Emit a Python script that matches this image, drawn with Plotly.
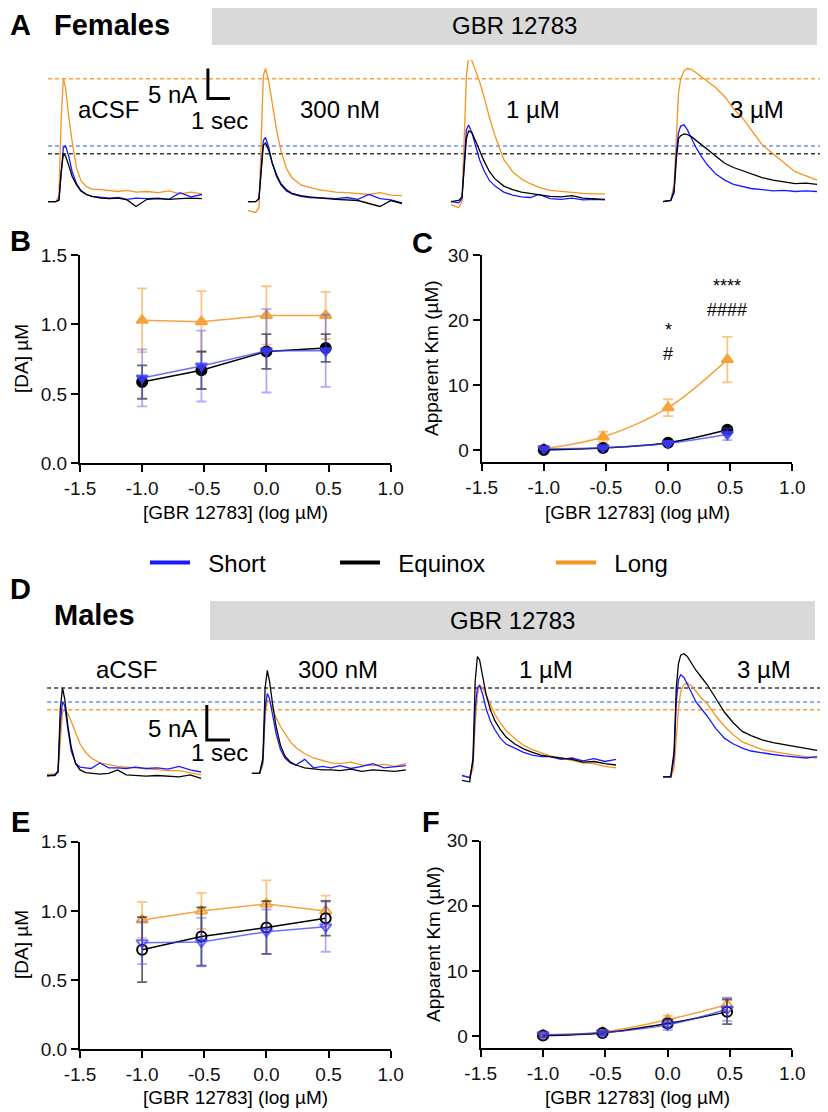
import plotly.graph_objects as go

# the page puts the chart 8 px in from the top-left corner, so the figure is
# 8 px smaller and all layout positions below are given in window pixels
W, H = 828, 1112
OFF = 8
FIG_W, FIG_H = W - OFF, H - OFF
FONT = "Liberation Sans, Arial, sans-serif"


def px(x):
    return (x - OFF) / FIG_W


def py(y):
    return 1 - (y - OFF) / FIG_H


# ---- dose-response data (B, C, E, F) ----
LOG_DOSE = [-1.0, -0.523, 0.0, 0.477]
X_TICKS = [-1.5, -1.0, -0.5, 0.0, 0.5, 1.0]
X_TICK_TEXT = ["-1.5", "-1.0", "-0.5", "0.0", "0.5", "1.0"]
DA_TICKS = [0.0, 0.5, 1.0, 1.5]
DA_TICK_TEXT = ["0.0", "0.5", "1.0", "1.5"]
KM_TICKS = [0, 10, 20, 30]

GROUPS = ["Short", "Equinox", "Long"]

F_DA_SHORT = [0.615, 0.70, 0.81, 0.81]
F_DA_SHORT_ERR = [0.205, 0.255, 0.30, 0.26]
F_DA_EQUINOX = [0.585, 0.67, 0.805, 0.83]
F_DA_EQUINOX_ERR = [0.12, 0.135, 0.125, 0.10]
F_DA_LONG = [1.03, 1.02, 1.065, 1.065]
F_DA_LONG_ERR = [0.23, 0.22, 0.21, 0.17]

F_KM_SHORT = [0.2, 0.35, 1.0, 2.4]
F_KM_SHORT_ERR = [0.2, 0.2, 0.3, 0.9]
F_KM_EQUINOX = [0.0, 0.3, 1.1, 3.1]
F_KM_EQUINOX_ERR = [0.1, 0.2, 0.3, 0.4]
F_KM_LONG = [0.2, 2.0, 6.5, 13.9]
F_KM_LONG_ERR = [0.3, 0.8, 1.3, 3.5]

M_DA_SHORT = [0.77, 0.775, 0.85, 0.885]
M_DA_SHORT_ERR = [0.155, 0.175, 0.16, 0.18]
M_DA_EQUINOX = [0.72, 0.815, 0.88, 0.947]
M_DA_EQUINOX_ERR = [0.235, 0.21, 0.19, 0.125]
M_DA_LONG = [0.935, 1.0, 1.05, 1.0]
M_DA_LONG_ERR = [0.13, 0.13, 0.17, 0.11]

M_KM_SHORT = [0.2, 0.5, 1.7, 4.1]
M_KM_SHORT_ERR = [0.3, 0.4, 0.8, 1.8]
M_KM_EQUINOX = [0.05, 0.45, 1.9, 3.7]
M_KM_EQUINOX_ERR = [0.2, 0.3, 0.6, 1.9]
M_KM_LONG = [0.15, 0.6, 2.5, 4.8]
M_KM_LONG_ERR = [0.2, 0.3, 0.6, 1.0]

C_STARS = ["", "", "*", "****"]
C_STARS_Y = [0, 0, 18.4, 25.2]
C_HASH = ["", "", "#", "####"]
C_HASH_Y = [0, 0, 14.7, 21.6]

# ---- voltammetry traces (A, D): time (s) and current (nA) ----
CONDITIONS = ["aCSF", "300 nM", "1 µM", "3 µM"]
T_S = [0, 0.35, 0.5, 0.6, 0.7, 0.8, 0.95, 1.1, 1.3, 1.5, 1.75, 2.0,
       2.4, 2.8, 3.2, 3.6, 4.0, 4.5, 5.0, 5.5, 6.0, 6.5, 7.0]

F_ACSF_SHORT = [0, 0, 0.2, 5.0, 9.0, 9.3, 7.5, 5.0, 3.0, 1.8, 1.2, 0.9, 0.7, 0.6, 0.7, 0.4, 0.6, 0.5, 0.6, 0.4, 1.5, 0.8, 1.2]
F_ACSF_EQUINOX = [0, 0, 0.3, 5.0, 8.0, 7.6, 6.0, 4.2, 2.8, 1.8, 1.2, 0.9, 0.6, 0.5, 0.6, 0.3, -0.8, 0.4, 0.5, 0.4, 0.5, 0.6, 0.5]
F_ACSF_LONG = [0, 0, 1.0, 14.0, 20.5, 19.0, 14.0, 10.0, 5.6, 3.5, 2.5, 2.1, 2.0, 1.8, 1.7, 1.9, 1.6, 1.7, 1.5, 1.8, 1.3, 1.6, 1.3]

F_300_SHORT = [0, 0, 0.5, 6.0, 10.2, 10.7, 9.0, 6.5, 4.2, 2.8, 1.8, 1.3, 0.9, 0.7, 0.6, 0.5, 0.5, 0.7, 0.4, 1.2, 0.5, 0.3, -0.2]
F_300_EQUINOX = [0, 0, 0.5, 5.5, 9.4, 9.8, 8.5, 6.5, 4.5, 3.0, 2.0, 1.4, 1.0, 0.8, 0.6, 0.5, 0.4, 0.3, 0.2, -0.3, -0.8, 0.2, -0.3]
F_300_LONG = [-1.5, -1.8, -1.0, 12.0, 21.0, 22.2, 20.0, 16.5, 12.0, 8.5, 5.5, 4.0, 2.8, 2.4, 2.0, 1.8, 1.6, 1.5, 1.3, 1.2, 1.5, 1.1, 1.0]

F_1U_SHORT = [0, -0.2, 0.5, 7.0, 12.0, 12.8, 11.5, 9.5, 7.0, 5.2, 3.5, 2.6, 1.6, 1.1, 0.8, 0.7, 1.2, 0.5, 0.4, 0.6, 0.3, 0.4, 0.3]
F_1U_EQUINOX = [0, 0.2, 0.8, 6.0, 10.5, 11.8, 11.5, 10.3, 8.5, 6.8, 5.0, 3.8, 2.6, 2.0, 1.6, 1.4, 1.2, 0.9, 0.8, 1.0, 0.6, 0.5, 0.4]
F_1U_LONG = [-0.5, -1.0, 0, 12.0, 21.0, 24.0, 23.5, 22.0, 20.0, 17.5, 14.0, 11.0, 7.0, 5.0, 3.8, 3.0, 2.4, 1.9, 1.7, 1.6, 1.4, 1.3, 1.3]

F_3U_SHORT = [0, 0.2, 2.0, 8.0, 11.5, 12.6, 12.8, 12.0, 10.5, 9.0, 7.5, 6.2, 4.6, 3.6, 2.9, 2.5, 2.2, 2.0, 1.8, 1.9, 1.7, 1.8, 1.7]
F_3U_EQUINOX = [0, 0.2, 1.5, 7.0, 10.5, 11.0, 11.3, 11.2, 10.8, 10.2, 9.5, 8.8, 7.6, 6.4, 5.7, 5.2, 4.6, 4.0, 3.6, 3.3, 3.0, 3.1, 2.9]
F_3U_LONG = [0, 0.2, 3.0, 12.0, 18.0, 20.5, 21.8, 22.2, 22.0, 21.5, 20.8, 20.0, 19.0, 17.5, 15.5, 14.0, 12.0, 9.5, 8.0, 6.5, 5.0, 4.3, 3.6]

M_ACSF_SHORT = [-0.6, -0.4, 0.2, 7.0, 10.0, 9.5, 6.0, 3.0, 1.2, 0.7, 0.6, 0.5, 1.3, 0.6, 0.6, 0.5, 0.7, 0.5, 0.6, 0.4, 0.8, 0.3, 0.0]
M_ACSF_EQUINOX = [-0.5, -0.5, 0, 9.0, 12.0, 10.5, 6.5, 3.5, 1.2, 0.3, -0.1, -0.2, -0.3, -0.2, 0.3, -0.4, -0.5, -0.6, -0.5, -0.6, -0.7, -0.4, -0.9]
M_ACSF_LONG = [-0.3, -0.3, 0, 5.0, 8.5, 8.9, 8.3, 7.2, 5.5, 4.0, 2.8, 2.0, 1.3, 1.0, 0.8, 0.7, 0.6, 0.5, 0.4, 0.2, 0.2, -0.1, -0.4]

M_300_SHORT = [-0.2, -0.2, 1.5, 9.0, 11.2, 10.5, 8.0, 5.5, 3.2, 2.0, 1.3, 1.0, 1.8, 0.6, 0.8, 0.6, 0.9, 0.5, 0.8, 1.2, 0.6, 0.8, 0.9]
M_300_EQUINOX = [-0.2, -0.2, 2.0, 12.0, 14.5, 13.0, 9.5, 6.5, 3.8, 2.3, 1.4, 1.0, 0.6, 0.4, 0.3, 0.3, 0.2, 0.4, 0.1, 0.3, 0.2, 0.1, 0.3]
M_300_LONG = [-0.2, -0.2, 1.0, 8.0, 10.3, 10.0, 9.0, 7.8, 6.5, 5.6, 4.3, 3.5, 2.6, 2.0, 1.6, 1.3, 1.2, 1.4, 1.0, 0.9, 1.1, 0.8, 1.2]

M_1U_SHORT = [-0.5, -0.8, 1.5, 9.0, 12.0, 12.4, 11.0, 9.0, 7.2, 6.0, 4.8, 4.0, 3.4, 2.8, 2.4, 2.2, 2.2, 1.8, 2.0, 1.6, 1.9, 1.5, 1.8]
M_1U_EQUINOX = [-1.2, -1.4, 2.0, 13.0, 16.5, 16.0, 13.5, 11.0, 8.8, 7.3, 6.0, 5.0, 4.0, 3.3, 2.8, 2.4, 2.2, 2.0, 1.8, 1.4, 1.5, 1.2, 1.0]
M_1U_LONG = [-0.5, -0.8, 0.5, 7.0, 11.0, 12.4, 12.0, 11.0, 9.5, 8.2, 7.0, 5.9, 4.8, 3.8, 3.2, 2.7, 2.3, 2.0, 1.6, 1.3, 1.2, 0.8, 0.6]

M_3U_SHORT = [-0.7, -0.7, 2.0, 10.0, 13.2, 13.9, 13.5, 12.5, 11.2, 10.0, 9.0, 8.0, 6.2, 4.8, 4.0, 3.4, 3.0, 2.7, 2.5, 2.3, 2.2, 2.0, 2.2]
M_3U_EQUINOX = [-0.7, -0.7, 3.0, 12.0, 15.5, 16.7, 16.9, 16.5, 15.5, 14.5, 13.5, 12.5, 10.5, 8.5, 7.0, 5.8, 5.2, 4.6, 4.2, 3.9, 3.6, 3.3, 3.1]
M_3U_LONG = [-0.7, -0.7, 0.5, 5.0, 9.0, 11.5, 12.5, 12.7, 12.3, 11.5, 10.5, 9.8, 8.0, 6.5, 5.3, 4.3, 3.8, 3.2, 2.9, 2.6, 2.4, 2.2, 2.0]

F_TRACES = [
    [F_ACSF_SHORT, F_ACSF_EQUINOX, F_ACSF_LONG],
    [F_300_SHORT, F_300_EQUINOX, F_300_LONG],
    [F_1U_SHORT, F_1U_EQUINOX, F_1U_LONG],
    [F_3U_SHORT, F_3U_EQUINOX, F_3U_LONG],
]
M_TRACES = [
    [M_ACSF_SHORT, M_ACSF_EQUINOX, M_ACSF_LONG],
    [M_300_SHORT, M_300_EQUINOX, M_300_LONG],
    [M_1U_SHORT, M_1U_EQUINOX, M_1U_LONG],
    [M_3U_SHORT, M_3U_EQUINOX, M_3U_LONG],
]

# layout: where each recording starts along the trace axis (s)
F_OFFSETS = [2.18, 11.27, 20.5, 30.14]
M_OFFSETS = [2.14, 11.45, 21.0, 30.14]
PX_PER_S = 22

TRACE_COLORS = ["#1a1aff", "#000000", "#f7941d"]
DASH_COLORS = ["#6f8cff", "#3a3a3a", "#f7a040"]
MARK_COLORS = ["rgba(60,60,255,0.75)", "#000000", "#f7a33c"]
ERR_COLORS = ["rgba(70,70,255,0.45)", "rgba(0,0,0,0.6)", "rgba(247,148,29,0.55)"]
FILLED = ["triangle-down", "circle", "triangle-up"]
OPEN = ["triangle-down-open", "circle-open", "triangle-up-open"]

fig = go.Figure()

# ---- trace panels ----
for traces, offsets, ax, ay, end in [(F_TRACES, F_OFFSETS, "x5", "y5", 37.4), (M_TRACES, M_OFFSETS, "x6", "y6", 37.6)]:
    for g in range(3):
        peak = max(traces[0][g])
        fig.add_trace(go.Scatter(
            x=[offsets[0], end], y=[peak, peak], mode="lines",
            line=dict(color=DASH_COLORS[g], width=1.5, dash="4px,3px"),
            xaxis=ax, yaxis=ay, showlegend=False, hoverinfo="skip"))
    for c in range(4):
        for g in [2, 0, 1]:
            fig.add_trace(go.Scatter(
                x=[t + offsets[c] for t in T_S], y=traces[c][g], mode="lines",
                line=dict(color=TRACE_COLORS[g], width=1.3),
                xaxis=ax, yaxis=ay, showlegend=False))

# scale bars (5 nA, 1 s)
fig.add_trace(go.Scatter(x=[9.45, 9.45, 10.45], y=[22.2, 17.2, 17.2], mode="lines",
                         line=dict(color="black", width=3), xaxis="x5", yaxis="y5", showlegend=False))
fig.add_trace(go.Scatter(x=[9.4, 9.4, 10.45], y=[9.57, 4.57, 4.57], mode="lines",
                         line=dict(color="black", width=3), xaxis="x6", yaxis="y6", showlegend=False))

# ---- dose-response panels ----
panels = [
    ("x", "y", [F_DA_SHORT, F_DA_EQUINOX, F_DA_LONG], [F_DA_SHORT_ERR, F_DA_EQUINOX_ERR, F_DA_LONG_ERR], FILLED, "linear"),
    ("x2", "y2", [F_KM_SHORT, F_KM_EQUINOX, F_KM_LONG], [F_KM_SHORT_ERR, F_KM_EQUINOX_ERR, F_KM_LONG_ERR], FILLED, "spline"),
    ("x3", "y3", [M_DA_SHORT, M_DA_EQUINOX, M_DA_LONG], [M_DA_SHORT_ERR, M_DA_EQUINOX_ERR, M_DA_LONG_ERR], OPEN, "linear"),
    ("x4", "y4", [M_KM_SHORT, M_KM_EQUINOX, M_KM_LONG], [M_KM_SHORT_ERR, M_KM_EQUINOX_ERR, M_KM_LONG_ERR], OPEN, "spline"),
]
for ax, ay, vals, errs, symbols, shape in panels:
    for g in [2, 1, 0]:
        fig.add_trace(go.Scatter(
            x=LOG_DOSE, y=vals[g], mode="lines+markers",
            line=dict(color=MARK_COLORS[g], width=1.5, shape=shape),
            marker=dict(symbol=symbols[g], size=10, color=MARK_COLORS[g],
                        line=dict(color=MARK_COLORS[g], width=2)),
            error_y=dict(type="data", array=errs[g], color=ERR_COLORS[g], thickness=1.8, width=5),
            xaxis=ax, yaxis=ay, showlegend=False))

# legend entries
for name, color, leg in zip(GROUPS, TRACE_COLORS, ["legend", "legend2", "legend3"]):
    fig.add_trace(go.Scatter(x=[None], y=[None], mode="lines", name="\u00a0\u00a0" + name,
                             line=dict(color=color, width=4),
                             legend=leg, xaxis="x5", yaxis="y5", showlegend=True))


def dose_axes(x0, x1, y0, y1, rng, tickvals, ticktext):
    xa = dict(domain=[px(x0), px(x1)], range=[-1.5, 1.0], tickvals=X_TICKS, ticktext=X_TICK_TEXT)
    ya = dict(domain=[py(y1), py(y0)], range=rng, tickvals=tickvals, ticktext=ticktext)
    for a in (xa, ya):
        a.update(showline=True, linecolor="black", linewidth=2, ticks="outside", ticklen=7,
                 tickwidth=2, tickcolor="black", showgrid=False, zeroline=False, automargin=False,
                 tickfont=dict(family=FONT, size=19, color="#111"), fixedrange=True)
    return xa, ya


xa1, ya1 = dose_axes(80, 390.7, 255, 463.3, [0, 1.5], DA_TICKS, DA_TICK_TEXT)
xa2, ya2 = dose_axes(481.7, 792.3, 255, 462.3, [-1.9, 30], KM_TICKS, [str(v) for v in KM_TICKS])
xa3, ya3 = dose_axes(80, 390.7, 841.7, 1049.3, [0, 1.5], DA_TICKS, DA_TICK_TEXT)
xa4, ya4 = dose_axes(480.7, 792.3, 840.7, 1048.3, [-1.9, 30], KM_TICKS, [str(v) for v in KM_TICKS])
ya1["anchor"] = "x"; xa1["anchor"] = "y"
ya2["anchor"] = "x2"; xa2["anchor"] = "y2"
ya3["anchor"] = "x3"; xa3["anchor"] = "y3"
ya4["anchor"] = "x4"; xa4["anchor"] = "y4"

hidden = dict(visible=False, showgrid=False, zeroline=False, fixedrange=True, automargin=False)
xa5 = dict(hidden, domain=[0, 1], range=[OFF / PX_PER_S, W / PX_PER_S], anchor="y5")
ya5 = dict(hidden, domain=[py(215), py(60)], range=[-(215 - 201.7) / 6, (201.7 - 60) / 6], anchor="x5")
xa6 = dict(hidden, domain=[0, 1], range=[OFF / PX_PER_S, W / PX_PER_S], anchor="y6")
ya6 = dict(hidden, domain=[py(790), py(645)], range=[-(790 - 772) / 7, (772 - 645) / 7], anchor="x6")

ann = []


def txt(x, y, s, size=24, bold=False, angle=0, ref=("paper", "paper")):
    ann.append(dict(x=x, y=y, xref=ref[0], yref=ref[1], text="<b>%s</b>" % s if bold else s,
                    showarrow=False, textangle=angle, xanchor="center", yanchor="middle",
                    font=dict(family=FONT, size=size, color="black")))


# panel letters and headings
for letter, x, y in [("A", 20, 25), ("B", 20, 241), ("C", 422, 243), ("D", 20, 589), ("E", 20, 822), ("F", 431, 822)]:
    txt(px(x), py(y), letter, size=29, bold=True)
txt(px(112), py(25), "Females", size=29, bold=True)
txt(px(94), py(615), "Males", size=29, bold=True)
txt(px(514), py(25), "GBR 12783", size=24)
txt(px(512), py(620), "GBR 12783", size=24)

for cond, x in zip(CONDITIONS, [108, 340, 533, 757]):
    txt(px(x), py(110), cond)
for cond, x in zip(CONDITIONS, [127, 338, 546, 764]):
    txt(px(x), py(669), cond)
txt(px(172), py(94), "5 nA")
txt(px(219), py(121), "1 sec")
txt(px(172), py(728), "5 nA")
txt(px(219), py(752), "1 sec")

# axis titles
for xc, y in [(235, 512), (637, 512), (235, 1097), (637, 1097)]:
    txt(px(xc), py(y), "[GBR 12783] (log µM)", size=19)
txt(px(21), py(359), "[DA] µM", size=19, angle=-90)
txt(px(21), py(945), "[DA] µM", size=19, angle=-90)
txt(px(432), py(358), "Apparent Km (µM)", size=19, angle=-90)
txt(px(433), py(944), "Apparent Km (µM)", size=19, angle=-90)

# significance marks in C
for d, s, y in zip(LOG_DOSE, C_STARS, C_STARS_Y):
    if s:
        txt(d, y, s, size=18, ref=("x2", "y2"))
for d, s, y in zip(LOG_DOSE, C_HASH, C_HASH_Y):
    if s:
        txt(d, y, s, size=18, ref=("x2", "y2"))

shapes = [
    dict(type="rect", xref="paper", yref="paper", x0=px(212), x1=px(817), y0=py(45), y1=py(8),
         fillcolor="#d9d9d9", line=dict(width=0), layer="below"),
    dict(type="rect", xref="paper", yref="paper", x0=px(210), x1=px(815), y0=py(640), y1=py(601),
         fillcolor="#d9d9d9", line=dict(width=0), layer="below"),
]

legend_style = dict(y=py(563), yanchor="middle", xanchor="left", bgcolor="rgba(0,0,0,0)",
                    font=dict(family=FONT, size=24, color="black"), itemwidth=40)

fig.update_layout(
    template="none",
    width=FIG_W, height=FIG_H, margin=dict(l=0, r=0, t=0, b=0, pad=0), autosize=False,
    paper_bgcolor="white", plot_bgcolor="white",
    font=dict(family=FONT),
    xaxis=xa1, yaxis=ya1, xaxis2=xa2, yaxis2=ya2, xaxis3=xa3, yaxis3=ya3, xaxis4=xa4, yaxis4=ya4,
    xaxis5=xa5, yaxis5=ya5, xaxis6=xa6, yaxis6=ya6,
    annotations=ann, shapes=shapes,
    legend=dict(legend_style, x=px(145)),
    legend2=dict(legend_style, x=px(335)),
    legend3=dict(legend_style, x=px(551)),
)

fig.write_html("out.html")
